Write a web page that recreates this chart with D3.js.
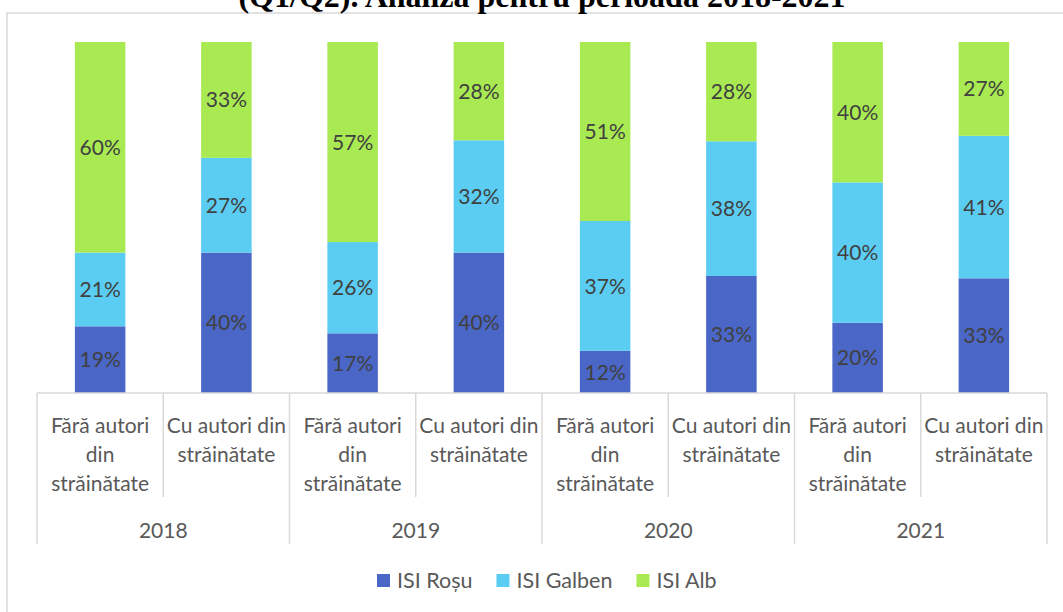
<!DOCTYPE html>
<html lang="ro">
<head>
  <meta charset="UTF-8">
  <title>ISI Roșu / Galben / Alb 2018-2021</title>
  <script src="https://cdnjs.cloudflare.com/ajax/libs/d3/7.8.5/d3.min.js"></script>
  <style>
    body { margin: 0; background: #fff; }
    .title { font: bold 32px "Liberation Serif", "Times New Roman", serif; fill: #000; text-anchor: middle; }
    .data-label { font: 21px Lato, sans-serif; fill: #404040; text-anchor: middle; }
    .cat-label { font: 21px Lato, sans-serif; fill: #595959; text-anchor: middle; }
    .legend text { font: 21.5px Lato, sans-serif; fill: #595959; }
    .grid { stroke: #d9d9d9; stroke-width: 1.5px; }
  </style>
</head>
<body>
  <div id="chart"></div>
  <script>
    const years = ["2018", "2019", "2020", "2021"];
    const groups = ["Fără autori din străinătate", "Cu autori din străinătate"];
    const seriesNames = ["ISI Roșu", "ISI Galben", "ISI Alb"];
    const colors = ["#4a66c6", "#5bcdf3", "#a9ea52"];

    // values per bar, order: 2018 Fără, 2018 Cu, 2019 Fără, ...
    const rosu   = [19, 40, 17, 40, 12, 33, 20, 33];
    const galben = [21, 27, 26, 32, 37, 38, 40, 41];
    const alb    = [60, 33, 57, 28, 51, 28, 40, 27];

    const width = 1063;
    const height = 612;
    const plotLeft = 37, plotRight = 1047, plotTop = 42, plotBottom = 393;

    const bars = [];
    years.forEach((y, i) => groups.forEach((g, j) => {
      const k = i * 2 + j;
      bars.push({ key: y + "|" + g, year: y, group: g, vals: [rosu[k], galben[k], alb[k]] });
    }));

    const svg = d3.select("#chart").append("svg")
      .attr("width", width)
      .attr("height", height);

    // chart frame (extends past the crop on right and bottom)
    svg.append("rect")
      .attr("x", 7).attr("y", 13)
      .attr("width", 1100).attr("height", 650)
      .attr("fill", "none")
      .attr("stroke", "#d9d9d9")
      .attr("stroke-width", 1.5);

    // title is cut by the top edge in the original image
    svg.append("text")
      .attr("class", "title")
      .attr("x", 542)
      .attr("y", 7)
      .text("(Q1/Q2). Analiza pentru perioada 2018-2021");

    const x = d3.scaleBand()
      .domain(bars.map(d => d.key))
      .range([plotLeft, plotRight])
      .paddingInner(0.6)
      .paddingOuter(0.3);

    const y = d3.scaleLinear().domain([0, 1]).range([plotBottom, plotTop]);

    // stack normalized to 100%
    const stacked = d3.stack()
      .keys([0, 1, 2])
      .value((d, k) => d.vals[k] / d3.sum(d.vals))(bars);

    const layer = svg.selectAll(".layer")
      .data(stacked)
      .join("g")
      .attr("class", "layer")
      .attr("fill", (d, i) => colors[i]);

    layer.selectAll("rect")
      .data(d => d)
      .join("rect")
      .attr("x", d => x(d.data.key))
      .attr("width", x.bandwidth())
      .attr("y", d => y(d[1]))
      .attr("height", d => y(d[0]) - y(d[1]));

    layer.each(function (s, i) {
      d3.select(this).selectAll("text")
        .data(s)
        .join("text")
        .attr("class", "data-label")
        .attr("x", d => x(d.data.key) + x.bandwidth() / 2)
        .attr("y", d => (y(d[0]) + y(d[1])) / 2)
        .attr("dy", "0.36em")
        .text(d => d.data.vals[i] + "%");
    });

    // axis line and category separators
    const step = x.step();
    svg.append("line").attr("class", "grid")
      .attr("x1", plotLeft).attr("x2", plotRight)
      .attr("y1", plotBottom).attr("y2", plotBottom);

    d3.range(bars.length + 1).forEach(i => {
      svg.append("line").attr("class", "grid")
        .attr("x1", plotLeft + i * step).attr("x2", plotLeft + i * step)
        .attr("y1", plotBottom)
        .attr("y2", i % 2 === 0 ? 544 : 497);
    });

    // wrapped category labels
    const maxW = step - 2;
    bars.forEach(d => {
      const t = svg.append("text")
        .attr("class", "cat-label")
        .attr("x", x(d.key) + x.bandwidth() / 2);
      const words = d.group.split(" ");
      let lines = [], line = [];
      words.forEach(w => {
        line.push(w);
        t.text(line.join(" "));
        if (t.node().getComputedTextLength() > maxW && line.length > 1) {
          line.pop();
          lines.push(line.join(" "));
          line = [w];
        }
      });
      lines.push(line.join(" "));
      t.text(null);
      lines.forEach((l, i) => {
        t.append("tspan")
          .attr("x", x(d.key) + x.bandwidth() / 2)
          .attr("y", 425 + i * 29)
          .attr("dy", "0.36em")
          .text(l);
      });
    });

    // year labels
    years.forEach((yr, i) => {
      svg.append("text")
        .attr("class", "cat-label")
        .attr("x", plotLeft + (i * 2 + 1) * step)
        .attr("y", 530)
        .attr("dy", "0.36em")
        .text(yr);
    });

    // legend
    const legend = svg.append("g").attr("class", "legend");
    let lx = 377;
    seriesNames.forEach((name, i) => {
      legend.append("rect")
        .attr("x", lx).attr("y", 574)
        .attr("width", 13).attr("height", 13)
        .attr("fill", colors[i]);
      const t = legend.append("text")
        .attr("x", lx + 20)
        .attr("y", 580.5)
        .attr("dy", "0.36em")
        .text(name);
      lx += 20 + t.node().getComputedTextLength() + 24;
    });
  </script>
</body>
</html>
